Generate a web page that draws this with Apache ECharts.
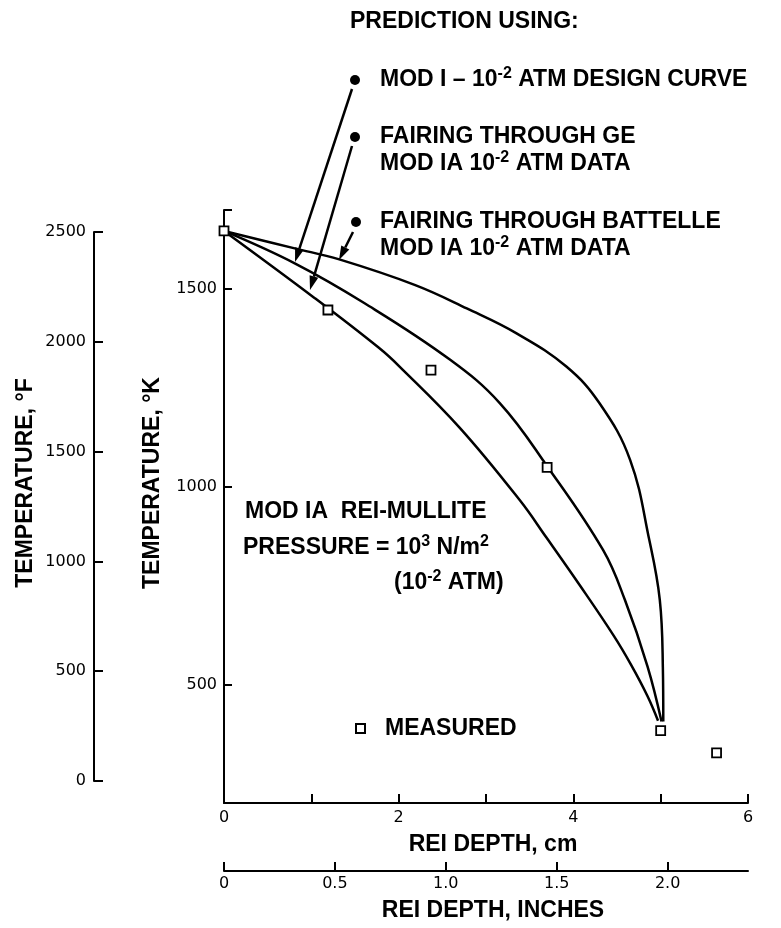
<!DOCTYPE html>
<html>
<head>
<meta charset="utf-8" />
<title>REI depth vs temperature</title>
<script src="https://cdn.jsdelivr.net/npm/echarts@6.0.0/dist/echarts.min.js"></script>
<style>
  html, body { margin: 0; padding: 0; background: #fff; }
  #main { width: 781px; height: 928px; }
</style>
</head>
<body>
<div id="main"></div>
<script type="text/javascript">
// measured points: depth (cm), temperature (K)
var measuredDepth = [0, 1.19, 2.37, 3.70, 5.00, 5.64];
var measuredTemp = [1647, 1447, 1295, 1049, 383, 327];

// MOD I - 10^-2 atm design curve
var designDepth = [0, 0.81, 1.61, 2.59, 3.16, 3.70, 4.34, 4.59, 4.85, 5.01];
var designTemp = [1647, 1565, 1464, 1321, 1211, 1052, 840, 714, 545, 406];

// fairing through GE mod IA data
var geDepth = [0, 1.04, 1.77, 2.01, 2.70, 3.39, 3.69, 4.07, 4.46, 4.66, 4.85, 4.97];
var geTemp = [1647, 1477, 1352, 1304, 1149, 965, 872, 752, 624, 550, 470, 408];

// fairing through Battelle mod IA data
var battelleDepth = [0, 0.81, 1.32, 2.19, 2.78, 3.35, 3.92, 4.30, 4.65, 4.87, 4.99, 5.025, 5.03];
var battelleTemp = [1647, 1603, 1575, 1510, 1451, 1388, 1304, 1211, 1068, 865, 714, 544, 406];

// axis ranges and ticks
var depthMaxCm = 6;
var tempMinK = 200, tempMaxK = 1700;
var kTicks = [500, 1000, 1500];
var fMax = 2500;

var boldFont = 'Liberation Sans, Arial, Helvetica, sans-serif';
var tickFont = 'DejaVu Sans, Verdana, sans-serif';

function pairs(xs, ys) {
  return xs.map(function (x, i) { return [x, ys[i]]; });
}

var sup = { fontSize: 16, fontWeight: 'bold', fontFamily: boldFont, fill: '#000', verticalAlign: 'top' };

function label(x, y, text) {
  return {
    type: 'text', x: x, y: y,
    style: {
      text: text, fill: '#000', fontSize: 23, fontWeight: 'bold', fontFamily: boldFont,
      align: 'left', verticalAlign: 'middle', lineHeight: 29, rich: { sup: sup }
    }
  };
}

function arrow(x1, y1, x2, y2) {
  var a = Math.atan2(y2 - y1, x2 - x1);
  var len = 14, half = 4.5;
  var bx = x2 - len * Math.cos(a), by = y2 - len * Math.sin(a);
  var px = -Math.sin(a) * half, py = Math.cos(a) * half;
  return [
    { type: 'line', shape: { x1: x1, y1: y1, x2: bx, y2: by }, style: { stroke: '#000', lineWidth: 2.5 } },
    { type: 'polygon', shape: { points: [[x2, y2], [bx + px, by + py], [bx - px, by - py]] }, style: { fill: '#000' } }
  ];
}

function bullet(x, y) {
  return { type: 'circle', shape: { cx: x, cy: y, r: 5 }, style: { fill: '#000' } };
}

var chart = echarts.init(document.getElementById('main'));

var axisLine = { lineStyle: { color: '#000', width: 2 } };
var tickLabel = { color: '#000', fontSize: 16, fontFamily: tickFont };
var plain = function (v) { return String(v); };

var lineStyle = { color: '#000', width: 2.5 };

var graphics = [
  label(350, 22, 'PREDICTION USING:'),
  label(380, 80, 'MOD I – 10{sup|-2} ATM DESIGN CURVE'),
  label(380, 137, 'FAIRING THROUGH GE'),
  label(380, 164, 'MOD IA 10{sup|-2} ATM DATA'),
  label(380, 222, 'FAIRING THROUGH BATTELLE'),
  label(380, 249, 'MOD IA 10{sup|-2} ATM DATA'),
  label(245, 512, 'MOD IA  REI-MULLITE'),
  label(243, 548, 'PRESSURE = 10{sup|3} N/m{sup|2}'),
  label(394, 583, '(10{sup|-2} ATM)'),
  bullet(355, 80), bullet(355, 137), bullet(356, 222),
  {
    type: 'text', x: 153, y: 483, rotation: Math.PI / 2,
    style: { text: 'TEMPERATURE, °K', fill: '#000', fontSize: 23, fontWeight: 'bold', fontFamily: boldFont, align: 'center', verticalAlign: 'middle' }
  },
  {
    type: 'text', x: 26, y: 483, rotation: Math.PI / 2,
    style: { text: 'TEMPERATURE, °F', fill: '#000', fontSize: 23, fontWeight: 'bold', fontFamily: boldFont, align: 'center', verticalAlign: 'middle' }
  }
].concat(arrow(352, 89, 295, 262), arrow(352, 146, 310, 290), arrow(353, 232, 339, 260));

var option = {
  backgroundColor: '#fff',
  animation: false,
  grid: [
    { left: 224, top: 210, width: 524, height: 593, outerBoundsMode: 'none' },
    { left: 94, top: 232, width: 10, height: 549, outerBoundsMode: 'none' },
    { left: 224, top: 860, width: 524, height: 11, outerBoundsMode: 'none' }
  ],
  legend: {
    data: ['MEASURED'], left: 350, top: 712, selectedMode: false,
    itemWidth: 9, itemHeight: 9, icon: 'rect',
    textStyle: { color: '#000', fontSize: 23, fontWeight: 'bold', fontFamily: boldFont, padding: [0, 0, 0, 15] }
  },
  xAxis: [
    {
      gridIndex: 0, type: 'value', min: 0, max: depthMaxCm, interval: 1,
      name: 'REI DEPTH, cm', nameLocation: 'middle', nameGap: 30,
      nameTextStyle: { color: '#000', fontSize: 23, fontWeight: 'bold', fontFamily: boldFont, padding: [0, 0, 0, 14] },
      axisLine: axisLine,
      axisTick: { inside: true, length: 9, lineStyle: { color: '#000', width: 2 } },
      axisLabel: Object.assign({ margin: 7, formatter: function (v) { return v % 2 === 0 ? String(v) : ''; } }, tickLabel),
      splitLine: { show: false }
    },
    { gridIndex: 1, type: 'value', show: false },
    {
      gridIndex: 2, type: 'value', min: 0, max: depthMaxCm / 2.54, interval: 0.5,
      name: 'REI DEPTH, INCHES', nameLocation: 'middle', nameGap: 28,
      nameTextStyle: { color: '#000', fontSize: 23, fontWeight: 'bold', fontFamily: boldFont, padding: [0, 0, 0, 14] },
      axisLine: axisLine,
      axisTick: { inside: true, length: 9, lineStyle: { color: '#000', width: 2 } },
      axisLabel: Object.assign({ margin: 5, showMaxLabel: false, formatter: function (v) { return v === 0 ? '0' : v.toFixed(1); } }, tickLabel),
      splitLine: { show: false }
    }
  ],
  yAxis: [
    {
      gridIndex: 0, type: 'value', min: tempMinK, max: tempMaxK,
      axisLine: axisLine,
      axisTick: { inside: true, length: 8, customValues: kTicks.concat([tempMaxK]), lineStyle: { color: '#000', width: 2 } },
      axisLabel: Object.assign({ margin: 7, customValues: kTicks, formatter: plain }, tickLabel),
      splitLine: { show: false }
    },
    {
      gridIndex: 1, type: 'value', min: 0, max: fMax, interval: 500,
      axisLine: axisLine,
      axisTick: { inside: true, length: 9, lineStyle: { color: '#000', width: 2 } },
      axisLabel: Object.assign({ margin: 8, formatter: plain }, tickLabel),
      splitLine: { show: false }
    },
    { gridIndex: 2, type: 'value', show: false }
  ],
  series: [
    { name: 'MOD I - 10-2 ATM DESIGN CURVE', type: 'line', data: pairs(designDepth, designTemp), smooth: 0.4, showSymbol: false, lineStyle: lineStyle },
    { name: 'FAIRING THROUGH GE', type: 'line', data: pairs(geDepth, geTemp), smooth: 0.4, showSymbol: false, lineStyle: lineStyle },
    { name: 'FAIRING THROUGH BATTELLE', type: 'line', data: pairs(battelleDepth, battelleTemp), smooth: 0.4, showSymbol: false, lineStyle: lineStyle },
    {
      name: 'MEASURED', type: 'scatter', data: pairs(measuredDepth, measuredTemp), z: 5,
      symbol: 'rect', symbolSize: 9,
      itemStyle: { color: '#fff', borderColor: '#000', borderWidth: 1.8, opacity: 1 }
    }
  ],
  graphic: graphics
};

chart.setOption(option);
</script>
</body>
</html>
